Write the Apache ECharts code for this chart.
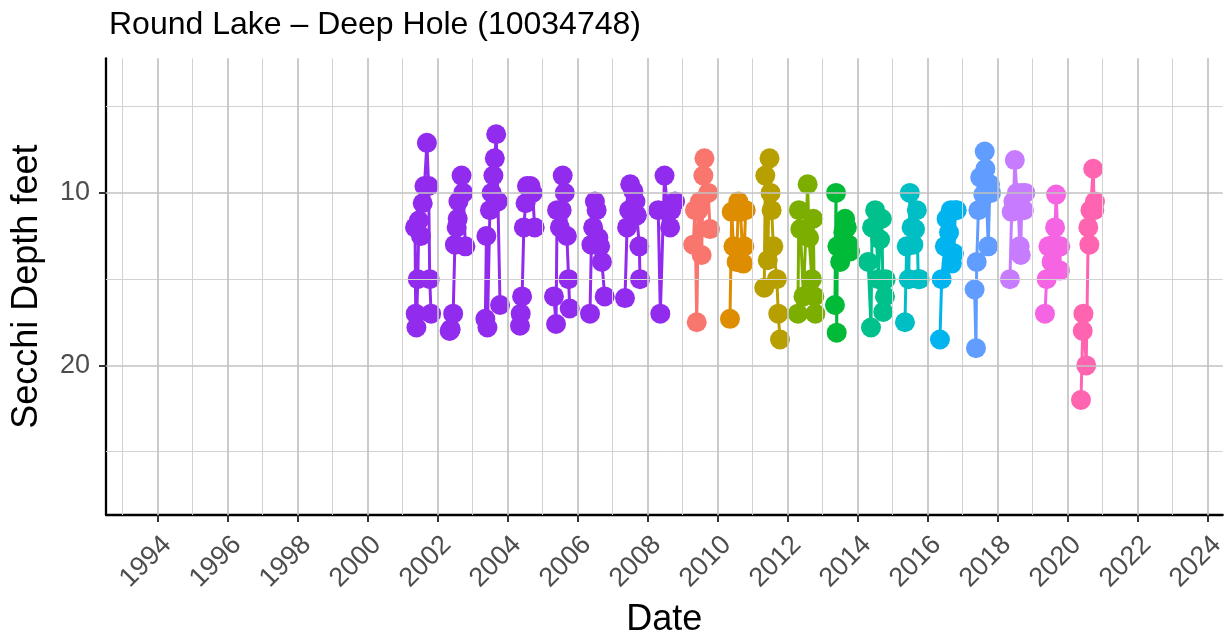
<!DOCTYPE html>
<html>
<head>
<meta charset="utf-8">
<script src="https://cdn.jsdelivr.net/npm/echarts@6/dist/echarts.min.js"></script>
<style>html,body{margin:0;padding:0;background:#fff}#c{width:1231px;height:643px}</style>
</head>
<body>
<div id="c"></div>
<script>
// Tick labels / gridlines
const xTickYears = [1994,1996,1998,2000,2002,2004,2006,2008,2010,2012,2014,2016,2018,2020,2022,2024];
const xMinorYears = [1993,1995,1997,1999,2001,2003,2005,2007,2009,2011,2013,2015,2017,2019,2021,2023];
const yTicks = [10, 20];
const yMinor = [5, 15, 25];

// Observations per season: [decimal year, Secchi depth (feet)]
const obs2001 = [[2001.36,12.0],[2001.38,17.0],[2001.40,17.8],[2001.44,15.0],[2001.47,11.6],[2001.53,12.5],[2001.58,10.6],[2001.63,9.6],[2001.70,7.1],[2001.75,9.6],[2001.78,15.0],[2001.82,17.0]];
const obs2002 = [[2002.35,18.0],[2002.38,17.9],[2002.45,17.0],[2002.50,13.0],[2002.55,12.0],[2002.58,11.5],[2002.60,10.5],[2002.69,9.0],[2002.74,10.0],[2002.80,13.1]];
const obs2003 = [[2003.37,17.3],[2003.40,12.5],[2003.43,17.8],[2003.50,11.0],[2003.55,10.0],[2003.60,9.0],[2003.64,8.0],[2003.68,6.6],[2003.73,10.5],[2003.79,16.5]];
const obs2004 = [[2004.36,17.7],[2004.38,17.0],[2004.42,16.0],[2004.47,12.0],[2004.52,10.6],[2004.56,9.6],[2004.66,9.6],[2004.72,10.0],[2004.78,12.0]];
const obs2005 = [[2005.33,16.0],[2005.39,17.6],[2005.42,11.0],[2005.50,12.0],[2005.55,11.0],[2005.58,9.0],[2005.64,10.0],[2005.70,12.5],[2005.75,15.0],[2005.78,16.7]];
const obs2006 = [[2006.36,17.0],[2006.40,13.0],[2006.45,12.0],[2006.50,10.5],[2006.55,11.0],[2006.60,12.6],[2006.65,13.1],[2006.70,14.0],[2006.78,16.0]];
const obs2007 = [[2007.36,16.1],[2007.42,12.0],[2007.48,11.0],[2007.51,9.5],[2007.60,9.9],[2007.66,10.5],[2007.70,11.3],[2007.77,13.1],[2007.79,15.0]];
const obs2008 = [[2008.31,11.0],[2008.37,17.0],[2008.49,9.0],[2008.58,11.0],[2008.65,12.0],[2008.68,11.0],[2008.79,10.5]];
const obs2009 = [[2009.31,13.0],[2009.36,11.0],[2009.41,17.5],[2009.46,11.0],[2009.50,10.5],[2009.55,13.6],[2009.60,9.0],[2009.63,8.0],[2009.74,10.0],[2009.79,12.1]];
const obs2010 = [[2010.36,17.3],[2010.41,11.1],[2010.46,13.1],[2010.55,14.0],[2010.60,10.5],[2010.66,11.1],[2010.74,14.1],[2010.77,13.1],[2010.81,11.0]];
const obs2011 = [[2011.34,15.5],[2011.37,9.0],[2011.44,13.9],[2011.49,8.0],[2011.52,10.0],[2011.55,11.0],[2011.60,13.1],[2011.70,15.0],[2011.74,17.0],[2011.79,18.5]];
const obs2012 = [[2012.30,17.0],[2012.33,11.0],[2012.37,12.1],[2012.46,16.0],[2012.58,9.5],[2012.62,12.6],[2012.70,15.0],[2012.74,11.5],[2012.77,16.0],[2012.80,17.0]];
const obs2013 = [[2013.36,16.5],[2013.39,10.0],[2013.41,18.1],[2013.43,13.1],[2013.51,14.0],[2013.60,12.3],[2013.65,11.5],[2013.70,12.0],[2013.75,13.0],[2013.79,13.4]];
const obs2014 = [[2014.31,14.0],[2014.39,17.8],[2014.42,12.0],[2014.51,11.0],[2014.60,15.0],[2014.65,12.7],[2014.70,11.5],[2014.74,16.9],[2014.79,16.0],[2014.81,15.0]];
const obs2015 = [[2015.36,17.5],[2015.41,13.1],[2015.47,15.0],[2015.50,10.0],[2015.55,12.0],[2015.60,13.0],[2015.65,12.1],[2015.70,11.0],[2015.74,15.0],[2015.78,15.0]];
const obs2016 = [[2016.36,18.5],[2016.41,15.0],[2016.50,13.1],[2016.55,11.5],[2016.62,12.3],[2016.67,11.0],[2016.70,14.1],[2016.76,13.5],[2016.80,11.0],[2016.84,11.0]];
const obs2017 = [[2017.35,15.6],[2017.39,19.0],[2017.41,14.0],[2017.46,11.0],[2017.51,9.1],[2017.60,10.1],[2017.64,7.6],[2017.66,8.6],[2017.74,13.1],[2017.79,9.5],[2017.82,10.0]];
const obs2018 = [[2018.36,15.0],[2018.41,11.1],[2018.46,10.5],[2018.50,8.1],[2018.56,10.0],[2018.60,11.0],[2018.64,13.1],[2018.67,13.6],[2018.70,10.0],[2018.76,11.0],[2018.80,10.0]];
const obs2019 = [[2019.36,17.0],[2019.41,15.0],[2019.46,13.1],[2019.55,14.0],[2019.60,13.0],[2019.65,12.0],[2019.68,10.1],[2019.74,13.1],[2019.79,14.5],[2019.80,13.1]];
const obs2020 = [[2020.39,22.0],[2020.44,18.0],[2020.46,17.0],[2020.54,20.0],[2020.60,12.0],[2020.63,13.0],[2020.66,11.0],[2020.74,8.6],[2020.77,11.0],[2020.79,10.5]];

const seasons = [2001,2002,2003,2004,2005,2006,2007,2008,2009,2010,2011,2012,2013,2014,2015,2016,2017,2018,2019,2020];
const seasonObs = [obs2001,obs2002,obs2003,obs2004,obs2005,obs2006,obs2007,obs2008,obs2009,obs2010,obs2011,obs2012,obs2013,obs2014,obs2015,obs2016,obs2017,obs2018,obs2019,obs2020];
const seasonColors = ['#912CEE','#912CEE','#912CEE','#912CEE','#912CEE','#912CEE','#912CEE','#912CEE',
  '#F8766D','#DE8C00','#B79F00','#7CAE00','#00BA38','#00C08B','#00BFC4','#00B4F0','#619CFF','#C77CFF','#F564E3','#FF64B0'];

const FONT = '"Liberation Sans", Arial, Helvetica, sans-serif';
const chart = echarts.init(document.getElementById('c'), null, {renderer: 'canvas'});

const majorGrid = {color: '#c2c2c2', width: 1.7, type: 'solid'};
const minorGrid = {color: '#d2d2d2', width: 1.0, type: 'solid'};
const gridLines = []
  .concat(xMinorYears.map(v => ({xAxis: v, lineStyle: minorGrid})))
  .concat(yMinor.map(v => ({yAxis: v, lineStyle: minorGrid})))
  .concat(xTickYears.map(v => ({xAxis: v, lineStyle: majorGrid})))
  .concat(yTicks.map(v => ({yAxis: v, lineStyle: majorGrid})));

const series = [{
  type: 'line', data: [], z: 0, silent: true,
  markLine: {silent: true, symbol: ['none','none'], label: {show: false}, animation: false, data: gridLines}
}].concat(seasons.map((s, i) => ({
  name: String(s), type: 'line', data: seasonObs[i], z: 3,
  symbol: 'circle', symbolSize: 20, showAllSymbol: true,
  lineStyle: {color: seasonColors[i], width: 3},
  itemStyle: {color: seasonColors[i], opacity: 1},
  emphasis: {disabled: true}
})));

chart.setOption({
  animation: false,
  backgroundColor: '#ffffff',
  title: {
    text: 'Round Lake \u2013 Deep Hole (10034748)', left: 104, top: 4,
    textStyle: {fontFamily: FONT, fontSize: 32, fontWeight: 'normal', color: '#000'}
  },
  grid: {left: 106, right: 8.3, top: 58.3, bottom: 126, containLabel: false},
  xAxis: {
    type: 'value', min: 1992.53, max: 2024.44,
    name: 'Date', nameLocation: 'middle', nameGap: 87,
    nameTextStyle: {fontFamily: FONT, fontSize: 36, color: '#000'},
    axisLine: {show: true, lineStyle: {color: '#000', width: 2.3}},
    axisTick: {show: true, customValues: xTickYears, length: 7, lineStyle: {color: '#333', width: 2}},
    axisLabel: {customValues: xTickYears, rotate: 45, align: 'right', verticalAlign: 'top', margin: 16,
      fontFamily: FONT, fontSize: 27, color: '#4d4d4d', formatter: v => String(Math.round(v))},
    splitLine: {show: false}
  },
  yAxis: {
    type: 'value', inverse: true, min: 2.2, max: 28.67,
    name: 'Secchi Depth feet', nameLocation: 'middle', nameGap: 61,
    nameTextStyle: {fontFamily: FONT, fontSize: 36, color: '#000'},
    axisLine: {show: true, lineStyle: {color: '#000', width: 2.3}},
    axisTick: {show: true, customValues: yTicks, length: 7, lineStyle: {color: '#333', width: 2}},
    axisLabel: {customValues: yTicks, margin: 16, fontFamily: FONT, fontSize: 27, color: '#4d4d4d'},
    splitLine: {show: false}
  },
  series: series
});
</script>
</body>
</html>
